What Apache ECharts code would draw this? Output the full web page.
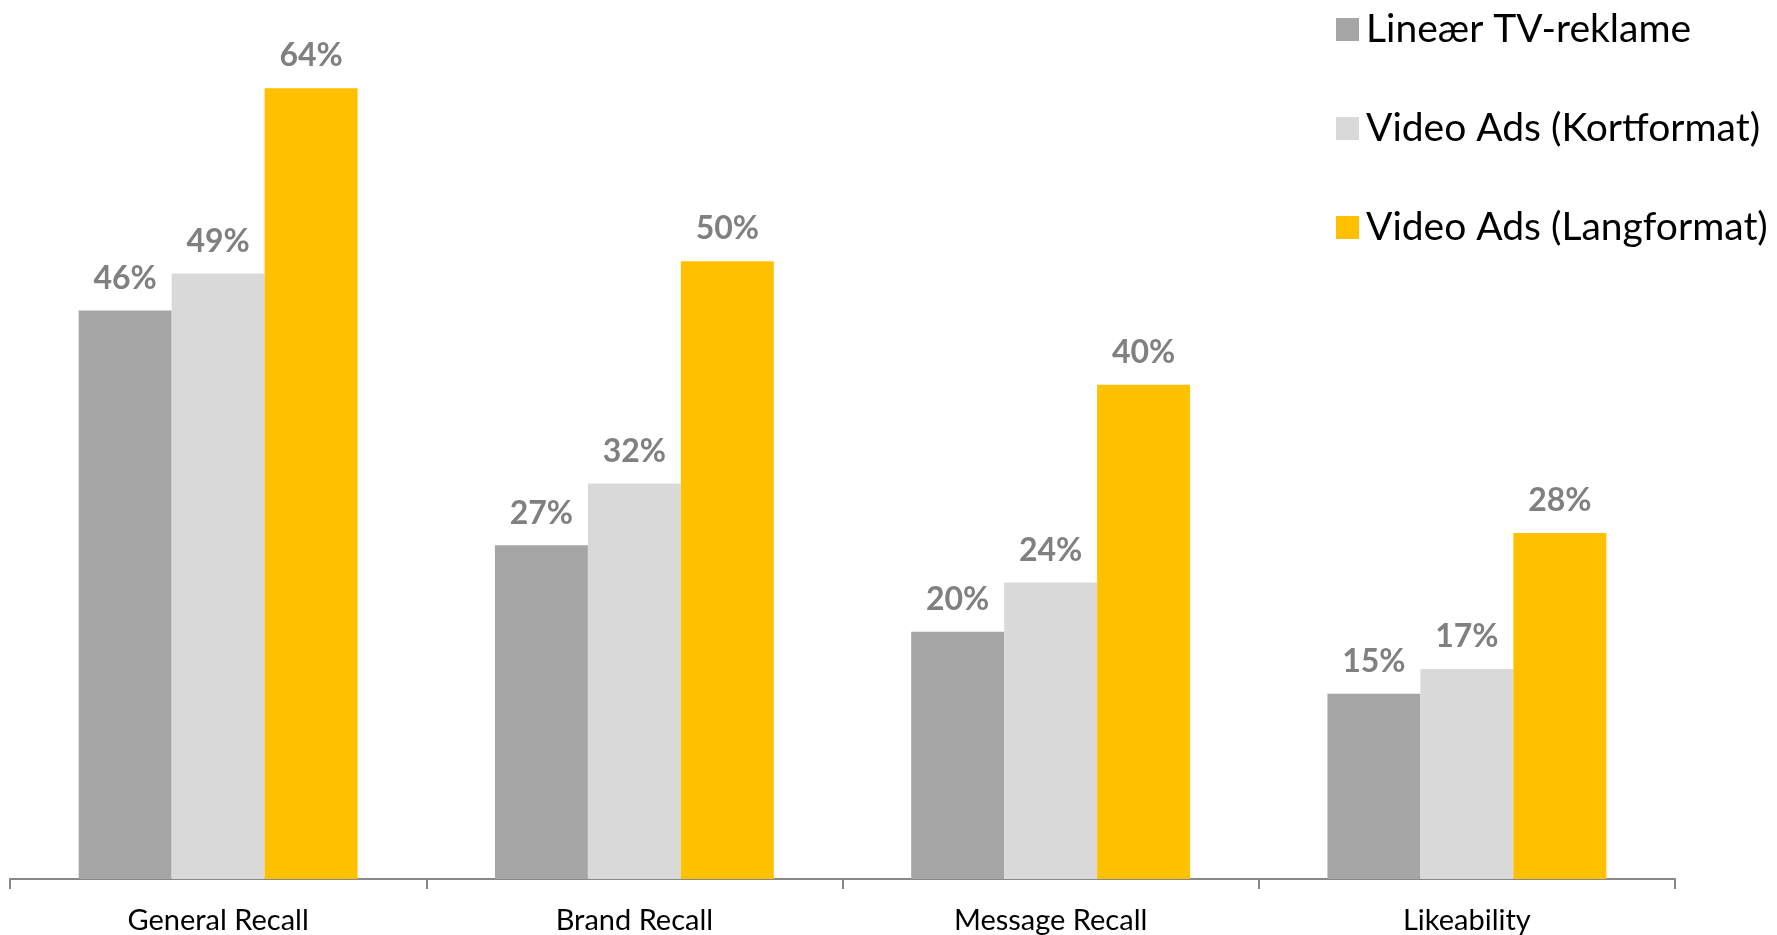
<!DOCTYPE html>
<html>
<head>
<meta charset="utf-8">
<script src="https://cdn.jsdelivr.net/npm/echarts@6/dist/echarts.min.js"></script>
<style>
  html, body { margin: 0; padding: 0; background: #fff; }
  #main { width: 1777px; height: 935px; }
</style>
</head>
<body>
<div id="main"></div>
<script>
var categories = ['General Recall', 'Brand Recall', 'Message Recall', 'Likeability'];
var seriesNames = ['Lineær TV-reklame', 'Video Ads (Kortformat)', 'Video Ads (Langformat)'];
var linearTv = [46, 27, 20, 15];
var videoShort = [49, 32, 24, 17];
var videoLong = [64, 50, 40, 28];
var colors = ['#A5A5A5', '#D9D9D9', '#FFC000'];

var myChart = echarts.init(document.getElementById('main'));

function barSeries(name, data) {
    return {
        name: name,
        type: 'bar',
        data: data,
        barGap: 0,
        barCategoryGap: '33%',
        label: {
            show: true,
            position: 'top',
            distance: 16,
            formatter: '{c}%',
            color: '#808080',
            fontFamily: 'Lato',
            fontWeight: 'bold',
            fontSize: 32
        }
    };
}

var option = {
    color: colors,
    animation: false,
    textStyle: { fontFamily: 'Lato' },
    legend: {
        orient: 'vertical',
        left: 1331,
        top: 5,
        itemWidth: 23,
        itemHeight: 23,
        itemGap: 60,
        icon: 'rect',
        textStyle: { fontSize: 39, color: '#000', lineHeight: 39, padding: [0, 0, 0, 2] },
        data: seriesNames
    },
    grid: { left: 10, right: 102, top: 14, bottom: 56 },
    xAxis: {
        type: 'category',
        data: categories,
        axisLine: { lineStyle: { color: '#888', width: 2 } },
        axisTick: { show: true, length: 10, lineStyle: { color: '#888', width: 2 } },
        axisLabel: { color: '#000', fontSize: 29, margin: 27 }
    },
    yAxis: {
        type: 'value',
        min: 0,
        max: 70,
        show: false
    },
    series: [
        barSeries(seriesNames[0], linearTv),
        barSeries(seriesNames[1], videoShort),
        barSeries(seriesNames[2], videoLong)
    ]
};
myChart.setOption(option);
</script>
</body>
</html>
